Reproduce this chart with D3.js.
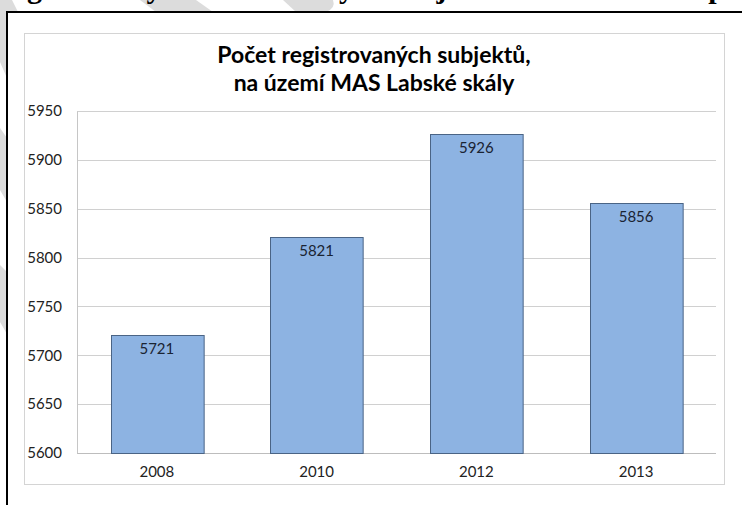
<!DOCTYPE html>
<html>
<head>
<meta charset="utf-8">
<script src="https://cdn.jsdelivr.net/npm/d3@7"></script>
<style>
  body { margin: 0; background: #fff; }
  svg { display: block; }
</style>
</head>
<body>
<div id="chart"></div>
<script>
// data
var years = ["2008", "2010", "2012", "2013"];
var subjects = [5721, 5821, 5926, 5856];
var yTicks = [5600, 5650, 5700, 5750, 5800, 5850, 5900, 5950];
var titleLines = ["Počet registrovaných subjektů,", "na území MAS Labské skály"];
var caption = "Počet registrovaných ekonomických subjektů na území MAS podle let";

var width = 742, height = 505;
var svg = d3.select("#chart").append("svg")
    .attr("width", width).attr("height", height);

// light grey watermark of the page, only visible outside the frame
var wm = svg.append("g").attr("fill", "#dcdcdc");
wm.append("path").attr("d", "M0,0 L7,0 L7,78 L0,62 Z");
wm.append("path").attr("d", "M0,128 L7,138 L7,202 L0,190 Z");
wm.append("path").attr("d", "M0,265 L7,272 L7,334 L0,322 Z");
wm.append("path").attr("d", "M0,0 L12,0 L18,12 L0,12 Z");
wm.append("path").attr("d", "M140,0 L196,0 L213,12 L156,12 Z");
wm.append("path").attr("d", "M283,0 L333,0 Q336,8 326,12 L296,12 Z");

// white page inside the frame
svg.append("rect").attr("x", 7).attr("y", 12)
    .attr("width", width - 7).attr("height", height - 12).attr("fill", "#fff");

// cut caption line of the document above the frame
var cap = svg.append("text")
    .attr("y", -2)
    .style("font-family", "'Liberation Serif', 'Times New Roman', serif")
    .style("font-weight", "bold")
    .style("font-size", "30px")
    .attr("fill", "#000")
    .text(caption);
var gPos = cap.node().getStartPositionOfChar(caption.indexOf("g")).x;
cap.attr("x", 27 - gPos);

// outer black frame (left and top)
svg.append("path").attr("d", "M7,505 L7,12 L742,12")
    .attr("fill", "none").attr("stroke", "#000").attr("stroke-width", 2);

// chart box
svg.append("rect").attr("x", 24.5).attr("y", 33.5)
    .attr("width", 700).attr("height", 451)
    .attr("fill", "#fff").attr("stroke", "#d4d4d4");

var font = "Lato, 'Open Sans', sans-serif";
var plotLeft = 77, plotRight = 716, plotTop = 111, plotBottom = 453;

var x = d3.scaleBand().domain(years).range([plotLeft, plotRight]).paddingInner(0.42).paddingOuter(0.21);
var y = d3.scaleLinear().domain([5600, 5950]).range([plotBottom, plotTop]);

// title
svg.append("g").selectAll("text").data(titleLines).enter().append("text")
    .attr("x", 374)
    .attr("y", function(d, i) { return 63 + i * 28; })
    .attr("text-anchor", "middle")
    .style("font-family", font)
    .style("font-weight", "bold")
    .style("font-size", "23px")
    .attr("fill", "#000")
    .text(function(d) { return d; });

// gridlines
svg.append("g").selectAll("line").data(yTicks).enter().append("line")
    .attr("x1", plotLeft).attr("x2", plotRight)
    .attr("y1", function(d) { return Math.round(y(d)) + 0.5; })
    .attr("y2", function(d) { return Math.round(y(d)) + 0.5; })
    .attr("stroke", function(d) { return d === 5600 ? "#bdbdbd" : "#d0d0d0"; })
    .attr("stroke-width", 1.2);

// y axis
var yAxis = svg.append("g").attr("transform", "translate(" + plotLeft + ",0)")
    .call(d3.axisLeft(y).tickValues(yTicks).tickFormat(d3.format("d")).tickSize(0).tickPadding(15));
yAxis.select(".domain").attr("stroke", "#c6c6c6");
yAxis.selectAll("text")
    .style("font-family", font).style("font-size", "15px").attr("fill", "#222");

// bars
svg.append("g").selectAll("rect").data(subjects).enter().append("rect")
    .attr("x", function(d, i) { return Math.round(x(years[i])) + 0.5; })
    .attr("y", function(d) { return Math.round(y(d)) + 0.5; })
    .attr("width", x.bandwidth())
    .attr("height", function(d) { return plotBottom - Math.round(y(d)); })
    .attr("fill", "#8db3e2")
    .attr("stroke", "#4a6485")
    .attr("stroke-width", 1);

// value labels
svg.append("g").selectAll("text").data(subjects).enter().append("text")
    .attr("x", function(d, i) { return x(years[i]) + x.bandwidth() / 2; })
    .attr("y", function(d) { return y(d) + 19; })
    .attr("text-anchor", "middle")
    .style("font-family", font).style("font-size", "15px")
    .attr("fill", "#1a2433")
    .text(function(d) { return d; });

// x axis labels
var xAxis = svg.append("g").attr("transform", "translate(0," + plotBottom + ")")
    .call(d3.axisBottom(x).tickSize(0).tickPadding(13));
xAxis.select(".domain").remove();
xAxis.selectAll("text")
    .style("font-family", font).style("font-size", "15px").attr("fill", "#222");
</script>
</body>
</html>
